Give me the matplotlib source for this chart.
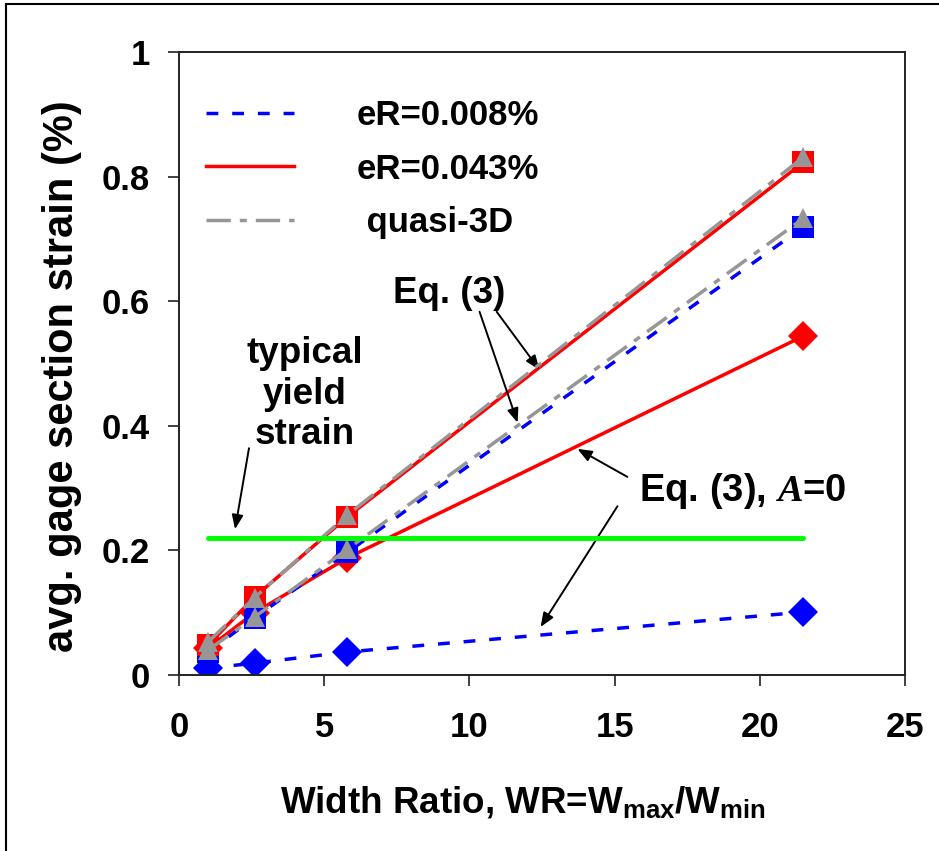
import numpy as np
import matplotlib
matplotlib.use('Agg')
import matplotlib.pyplot as plt
from matplotlib.lines import Line2D
from matplotlib.ticker import FuncFormatter

plt.rcParams['font.family'] = ['Liberation Sans', 'DejaVu Sans']
plt.rcParams['font.weight'] = 'bold'
plt.rcParams['mathtext.fontset'] = 'custom'
plt.rcParams['mathtext.rm'] = 'Liberation Sans:bold'
plt.rcParams['mathtext.bf'] = 'Liberation Sans:bold'
plt.rcParams['mathtext.it'] = 'Liberation Serif:italic'

# Width ratio of the specimens
wr = [1, 2.6, 5.8, 21.5]

# Eq. (3)
eq3_low = [0.037, 0.092, 0.197, 0.719]     # eR=0.008%
eq3_high = [0.048, 0.125, 0.254, 0.823]    # eR=0.043%
# Eq. (3), A=0
eq3_a0_low = [0.011, 0.019, 0.037, 0.101]
eq3_a0_high = [0.043, 0.100, 0.188, 0.544]
# quasi-3D
q3d_low = [0.040, 0.093, 0.202, 0.733]
q3d_high = [0.053, 0.124, 0.257, 0.831]

yield_x = [1, 21.5]
yield_strain = 0.22

legend_labels = ['eR=0.008%', 'eR=0.043%', ' quasi-3D']

BLUE = '#0000ff'
RED = '#ff0000'
GRAY = '#969696'
GREEN = '#00ff00'
LW = 2.5
blue_dash = (0, (3.4, 4))
gray_dash = (0, (7, 2.6, 2, 2.6))


def main():
    fig = plt.figure(figsize=(9.39, 8.51), dpi=100)
    ax = fig.add_axes([179 / 939, 1 - 675 / 851, (905 - 179) / 939, (675 - 52) / 851])

    # A=0 curves
    ax.plot(wr, eq3_a0_low, color=BLUE, lw=LW, linestyle=blue_dash,
            marker='D', ms=15.5, mew=0, zorder=2)
    ax.plot(wr, eq3_a0_high, color=RED, lw=LW,
            marker='D', ms=15.5, mew=0, zorder=2)

    # Eq. (3)
    ax.plot(wr, eq3_low, color=BLUE, lw=LW, linestyle=blue_dash,
            marker='s', ms=15.5, mew=0, zorder=3)
    ax.plot(wr, eq3_high, color=RED, lw=LW,
            marker='s', ms=15.5, mew=0, zorder=3)

    # quasi-3D
    ax.plot(wr, q3d_low, color=GRAY, lw=LW, linestyle=gray_dash,
            marker='^', ms=14, mew=0, zorder=4)
    ax.plot(wr, q3d_high, color=GRAY, lw=LW, linestyle=gray_dash,
            marker='^', ms=14, mew=0, zorder=4)

    # typical yield strain
    ax.plot(yield_x, [yield_strain] * 2, color=GREEN, lw=3.6,
            solid_capstyle='round', zorder=5)

    ax.set_xlim(0, 25)
    ax.set_ylim(0, 1)
    ax.set_xticks(np.arange(0, 26, 5))
    ax.set_yticks(np.arange(0, 1.01, 0.2))
    ax.yaxis.set_major_formatter(FuncFormatter(lambda v, p: f'{v:g}'))
    ax.tick_params(axis='both', direction='out', length=8, width=1.3,
                   color='#333333', labelsize=25)
    ax.tick_params(axis='x', pad=18)
    ax.tick_params(axis='y', pad=13)
    for sp in ax.spines.values():
        sp.set_color('#222222')
        sp.set_linewidth(1.4)

    ax.set_xlabel(r'Width Ratio, WR=W$_{\mathrm{max}}$/W$_{\mathrm{min}}$',
                  fontsize=26.5, fontweight='bold')
    ax.xaxis.set_label_coords(0.474, -0.175)
    ax.set_ylabel('avg. gage section strain (%)', fontsize=30,
                  fontweight='bold')
    ax.yaxis.set_label_coords(-0.133, 0.48)

    # Legend (lines only)
    handles = [Line2D([], [], color=BLUE, lw=LW, linestyle=blue_dash),
               Line2D([], [], color=RED, lw=LW),
               Line2D([], [], color=GRAY, lw=LW, linestyle=gray_dash)]
    ax.legend(handles, legend_labels, loc='upper left',
              bbox_to_anchor=(0.037, 0.925), frameon=False,
              prop={'size': 25, 'weight': 'bold'},
              handlelength=2.55, handletextpad=1.8, labelspacing=0.6,
              borderpad=0, borderaxespad=0)

    arrow = dict(arrowstyle='-|>,head_length=0.5,head_width=0.2',
                 color='black', lw=1.4, mutation_scale=17,
                 shrinkA=0, shrinkB=0)

    # Annotations
    ax.text(9.32, 0.613, 'Eq. (3)', fontsize=26.5, fontweight='bold',
            ha='center', va='center')
    ax.annotate('', xy=(12.41, 0.490), xytext=(10.94, 0.583), arrowprops=arrow)
    ax.annotate('', xy=(11.66, 0.405), xytext=(10.35, 0.583), arrowprops=arrow)

    ax.text(4.33, 0.451, 'typical\nyield\nstrain', fontsize=26.5,
            fontweight='bold', ha='center', va='center', linespacing=1.2)
    ax.annotate('', xy=(1.93, 0.234), xytext=(2.41, 0.364), arrowprops=arrow)

    ax.text(19.4, 0.295, r'Eq. (3), $\mathit{A}$=0', fontsize=27.5,
            fontweight='bold', ha='center', va='center')
    ax.annotate('', xy=(13.72, 0.363), xytext=(15.44, 0.318), arrowprops=arrow)
    ax.annotate('', xy=(12.45, 0.077), xytext=(15.1, 0.271), arrowprops=arrow)

    # outer chart frame (left and top edges visible)
    fig.add_artist(Line2D([5.5 / 939, 5.5 / 939], [0, 1 - 3.5 / 851],
                          transform=fig.transFigure, color='black', lw=1.5))
    fig.add_artist(Line2D([5.5 / 939, 1], [1 - 3.5 / 851, 1 - 3.5 / 851],
                          transform=fig.transFigure, color='black', lw=1.5))

    fig.savefig('out.png', dpi=100)


if __name__ == '__main__':
    main()
